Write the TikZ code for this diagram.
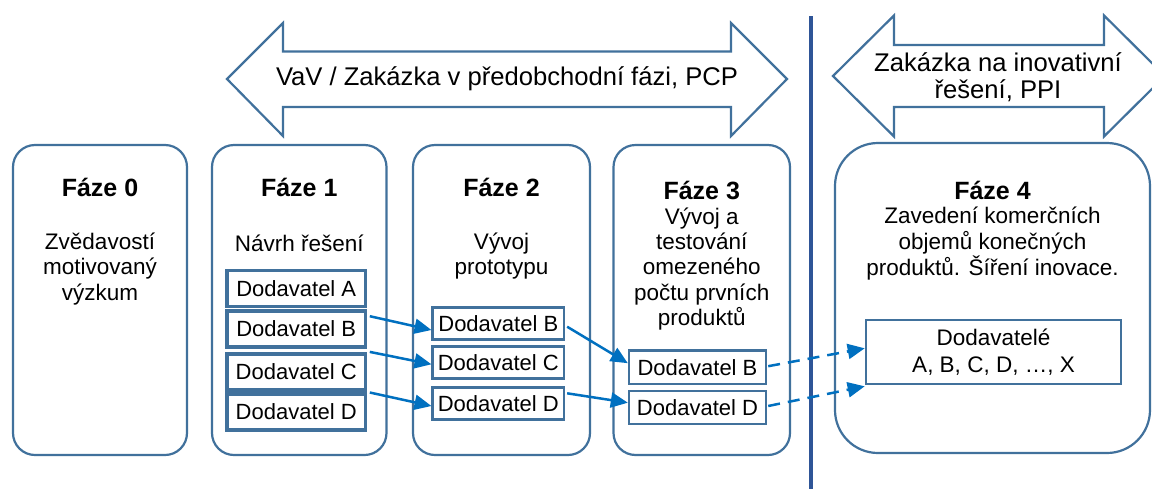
\documentclass[tikz,border=0pt]{standalone}
\usepackage{fontspec}
\setmainfont{Liberation Sans}
\usetikzlibrary{arrows.meta,calc}
\definecolor{boxblue}{HTML}{41719C}
\definecolor{conblue}{HTML}{0070C0}
\definecolor{linedark}{HTML}{2F5597}
\tikzset{
  phase/.style={draw=boxblue,line width=2.2pt,rounded corners=22pt,inner sep=0pt,fill=white},
  phasebig/.style={phase,rounded corners=43pt},
  title/.style={font=\bfseries\fontsize{25}{30}\selectfont,inner sep=0pt},
  body/.style={font=\fontsize{22.5}{25.3}\selectfont,align=center,inner sep=0pt},
  bodyb/.style={font=\fontsize{22.5}{26}\selectfont,align=center,inner sep=0pt},
  suppa/.style={draw=boxblue,line width=3.6pt,inner sep=0pt,minimum width=138.5pt,minimum height=36pt,font=\fontsize{22}{26}\selectfont,fill=white},
  suppb/.style={draw=boxblue,line width=2.4pt,inner sep=0pt,font=\fontsize{22}{26}\selectfont,fill=white},
  bigarrow/.style={draw=boxblue,line width=2.2pt,fill=white,line join=miter},
  arrtext/.style={font=\fontsize{25.6}{27}\selectfont,align=center,inner sep=0pt},
  conn/.style={draw=conblue,line width=2.5pt,-{Triangle[length=17pt,width=15pt]}},
  dconn/.style={conn,dash pattern=on 12pt off 8pt}
}
\begin{document}
\begin{tikzpicture}[x=1pt,y=-1pt]
\clip (0,0) rectangle (1152,488);
\fill[white] (0,0) rectangle (1152,488);

% big arrows
\draw[bigarrow] (227,79) -- (283,23) -- (283,51.5) -- (731,51.5) -- (731,23) -- (787,79)
  -- (731,136) -- (731,107) -- (283,107) -- (283,136) -- cycle;
\node[arrtext] (pcp) at (507,79) {VaV / Zakázka v předobchodní fázi, PCP};

\draw[bigarrow] (833,76) -- (894,15.5) -- (894,45) -- (1104,45) -- (1104,15.5) -- (1165,76)
  -- (1104,136.5) -- (1104,107) -- (894,107) -- (894,136.5) -- cycle;
\node[arrtext] (ppi) at (998,77) {Zakázka na inovativní\\řešení, PPI};

% phase boxes
\node[phase,minimum width=174pt,minimum height=310pt] (f0) at (100,300) {};
\node[phase,minimum width=174.5pt,minimum height=310pt] (f1) at (299.25,300) {};
\node[phase,minimum width=177pt,minimum height=310pt] (f2) at (501.5,300) {};
\node[phase,minimum width=176.5pt,minimum height=310pt] (f3) at (701.75,300) {};
\node[phasebig,minimum width=315pt,minimum height=310pt] (f4) at (992.5,298) {};

% separator line
\coordinate (vtop) at (811,16);
\coordinate (vbot) at (811,490);
\draw[linedark,line width=4.5pt] (vtop) -- (vbot);

% titles and texts
\node[title] (t0) at (100,187) {Fáze 0};
\node[title] (t1) at (299.25,187) {Fáze 1};
\node[title] (t2) at (501.5,187) {Fáze 2};
\node[title] (t3) at (701.75,190) {Fáze 3};
\node[title] (t4) at (992.5,190) {Fáze 4};

\node[body] (b0) at (100,269) {Zvědavostí\\motivovaný\\výzkum};
\node[body] (b1) at (299.25,243) {Návrh řešení};
\node[body] (b2) at (501.5,256) {Vývoj\\prototypu};
\node[body] (b3) at (701.75,269) {Vývoj a\\testování\\omezeného\\počtu prvních\\produktů};
\node[bodyb] (b4) at (992.5,244) {Zavedení komerčních\\objemů konečných\\produktů. Šíření inovace.};

% supplier boxes phase 1
\node[suppa] (f1a) at (296.25,288.3) {Dodavatel A};
\node[suppa] (f1b) at (296.25,329) {Dodavatel B};
\node[suppa] (f1c) at (296.25,371.7) {Dodavatel C};
\node[suppa] (f1d) at (296.25,411.8) {Dodavatel D};

% phase 2
\node[suppb,minimum width=131.3pt,minimum height=32pt] (f2b) at (498.3,323.3) {Dodavatel B};
\node[suppb,minimum width=131.3pt,minimum height=32pt] (f2c) at (498.3,362.5) {Dodavatel C};
\node[suppb,minimum width=131.3pt,minimum height=32pt] (f2d) at (498.3,403.3) {Dodavatel D};

% phase 3
\node[suppb,minimum width=137pt,minimum height=33.5pt] (f3b) at (697.5,367.2) {Dodavatel B};
\node[suppb,minimum width=137pt,minimum height=33pt] (f3d) at (697.5,407.5) {Dodavatel D};

% phase 4
\node[suppb,line width=2.6pt,minimum width=255pt,minimum height=64pt,align=center,font=\fontsize{22.5}{26.5}\selectfont] (f4s) at (993.5,352) {Dodavatelé\\A, B, C, D, …, X};

% connectors
\draw[conn] ($(f1b.north east)+(2.5,7)$) -- ($(f2b.west)+(0,6.7)$);
\draw[conn] ($(f1c.north east)+(2.5,0)$) -- ($(f2c.west)+(0,1.8)$);
\draw[conn] ($(f1d.north east)+(2.5,0.5)$) -- ($(f2d.west)+(0,2.7)$);
\draw[conn] ($(f2b.east)+(2,3.4)$) -- ($(f3b.west)+(0,-4)$);
\draw[conn] ($(f2d.east)+(2,-10)$) -- ($(f3d.west)+(0,-4.8)$);
\draw[dconn] ($(f3b.east)+(1,-1)$) -- ($(f4s.west)+(0,-3.7)$);
\draw[dconn] ($(f3d.east)+(1,-1.5)$) -- ($(f4s.south west)+(0,1)$);
\end{tikzpicture}
\end{document}
